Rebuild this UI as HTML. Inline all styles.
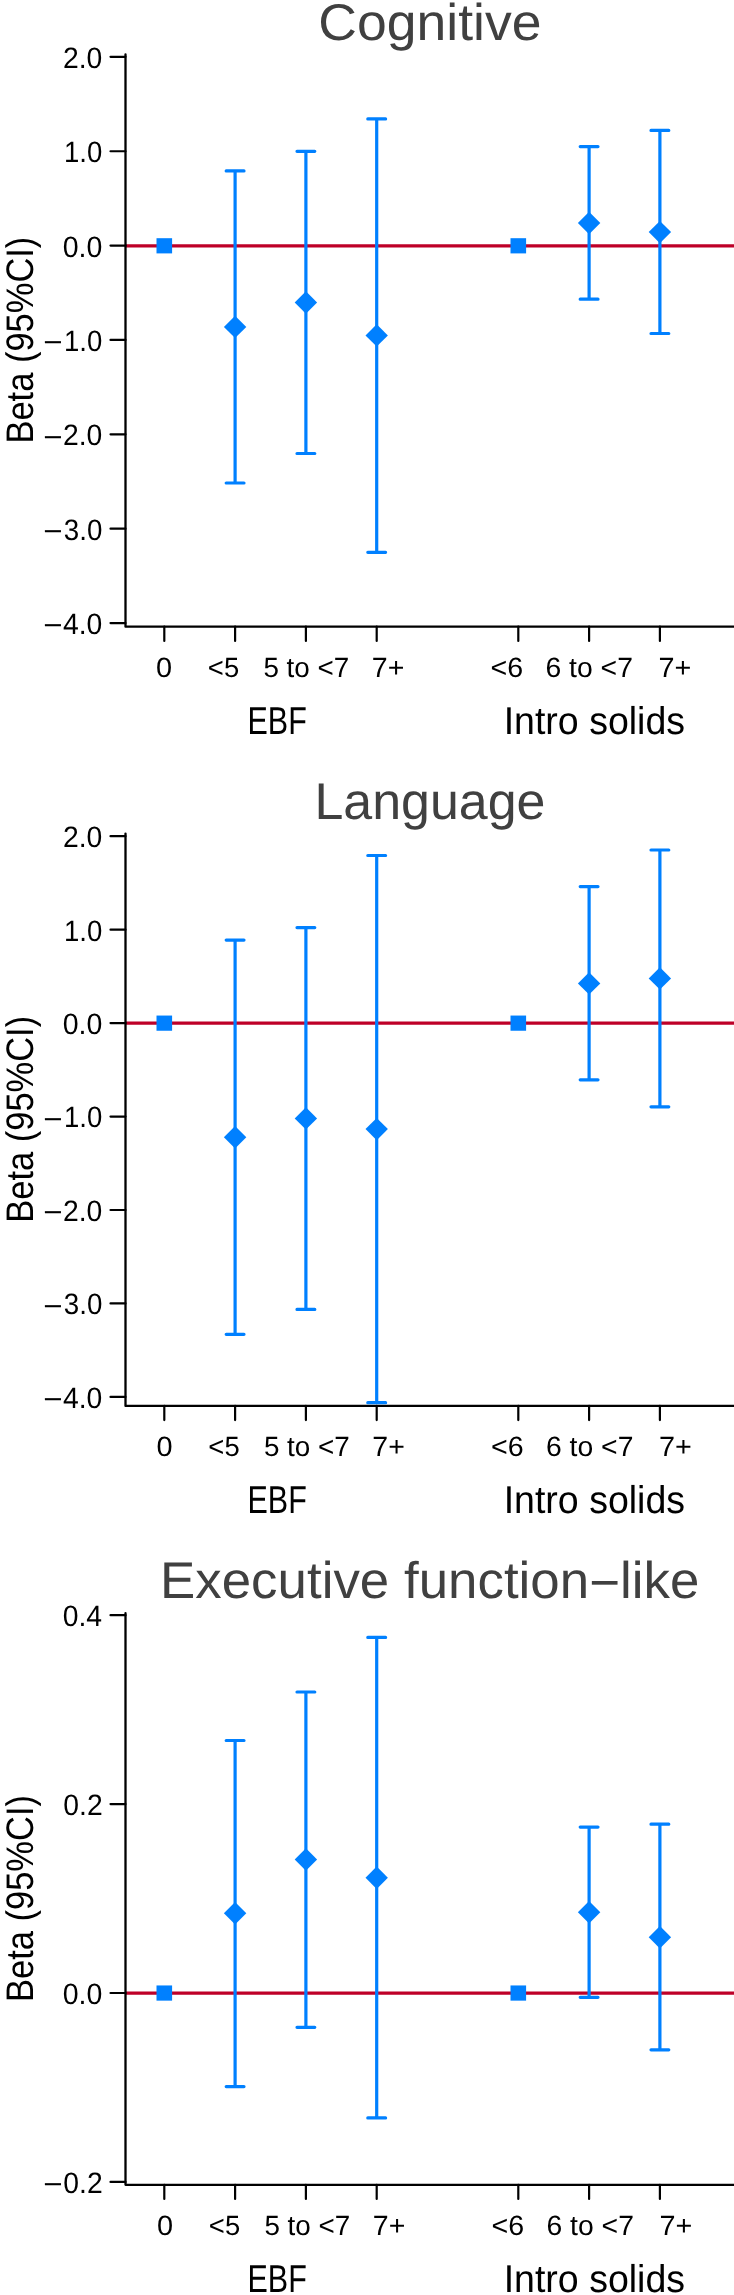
<!DOCTYPE html>
<html><head><meta charset="utf-8"><title>Beta (95%CI) by EBF and Intro solids</title>
<style>
html,body{margin:0;padding:0;background:#fff;}
body{width:734px;height:2295px;overflow:hidden;}
svg{display:block;will-change:transform;}
text{font-family:"Liberation Sans",sans-serif;font-size:100px;font-kerning:none;font-feature-settings:"kern" 0;text-rendering:geometricPrecision;white-space:pre;}
</style></head><body>
<svg width="734" height="2295" viewBox="0 0 734 2295">
<rect width="734" height="2295" fill="#fff"/>
<text transform="matrix(0.53538 0 0 0.51700 318.28 39.50)" fill="#404040">Cognitive</text>
<line x1="125.5" y1="245.80" x2="734" y2="245.80" stroke="#BE0028" stroke-width="3.2"/>
<path d="M125.5 54.40 V626.70 H740" fill="none" stroke="#000" stroke-width="2.3" stroke-linecap="round" stroke-linejoin="round"/>
<line x1="110.5" y1="56.86" x2="125.5" y2="56.86" stroke="#000" stroke-width="2.2" stroke-linecap="round"/>
<text transform="matrix(0.28329 0 0 0.29500 62.98 67.76)" fill="#000">2.0</text>
<line x1="110.5" y1="151.23" x2="125.5" y2="151.23" stroke="#000" stroke-width="2.2" stroke-linecap="round"/>
<text transform="matrix(0.27571 0 0 0.29500 64.00 162.13)" fill="#000">1.0</text>
<line x1="110.5" y1="245.60" x2="125.5" y2="245.60" stroke="#000" stroke-width="2.2" stroke-linecap="round"/>
<text transform="matrix(0.28544 0 0 0.29500 62.69 256.50)" fill="#000">0.0</text>
<line x1="110.5" y1="339.97" x2="125.5" y2="339.97" stroke="#000" stroke-width="2.2" stroke-linecap="round"/>
<text transform="matrix(0.33138 0 0 0.29500 43.17 352.38)" fill="#000">−</text>
<text transform="matrix(0.27571 0 0 0.29500 64.00 350.87)" fill="#000">1.0</text>
<line x1="110.5" y1="434.34" x2="125.5" y2="434.34" stroke="#000" stroke-width="2.2" stroke-linecap="round"/>
<text transform="matrix(0.33138 0 0 0.29500 43.17 446.75)" fill="#000">−</text>
<text transform="matrix(0.28329 0 0 0.29500 62.98 445.24)" fill="#000">2.0</text>
<line x1="110.5" y1="528.71" x2="125.5" y2="528.71" stroke="#000" stroke-width="2.2" stroke-linecap="round"/>
<text transform="matrix(0.33138 0 0 0.29500 43.17 541.12)" fill="#000">−</text>
<text transform="matrix(0.27761 0 0 0.29500 63.74 539.61)" fill="#000">3.0</text>
<line x1="110.5" y1="623.08" x2="125.5" y2="623.08" stroke="#000" stroke-width="2.2" stroke-linecap="round"/>
<text transform="matrix(0.33138 0 0 0.29500 43.17 635.49)" fill="#000">−</text>
<text transform="matrix(0.28348 0 0 0.29500 62.95 633.98)" fill="#000">4.0</text>
<line x1="164.30" y1="626.70" x2="164.30" y2="640.90" stroke="#000" stroke-width="2.2" stroke-linecap="round"/>
<line x1="235.10" y1="626.70" x2="235.10" y2="640.90" stroke="#000" stroke-width="2.2" stroke-linecap="round"/>
<line x1="305.90" y1="626.70" x2="305.90" y2="640.90" stroke="#000" stroke-width="2.2" stroke-linecap="round"/>
<line x1="376.70" y1="626.70" x2="376.70" y2="640.90" stroke="#000" stroke-width="2.2" stroke-linecap="round"/>
<line x1="518.30" y1="626.70" x2="518.30" y2="640.90" stroke="#000" stroke-width="2.2" stroke-linecap="round"/>
<line x1="589.10" y1="626.70" x2="589.10" y2="640.90" stroke="#000" stroke-width="2.2" stroke-linecap="round"/>
<line x1="659.90" y1="626.70" x2="659.90" y2="640.90" stroke="#000" stroke-width="2.2" stroke-linecap="round"/>
<text transform="matrix(0.28869 0 0 0.27800 156.07 676.60)" fill="#000">0</text>
<text transform="matrix(0.27459 0 0 0.27800 207.85 676.60)" fill="#000">&lt;5</text>
<text transform="matrix(0.27841 0 0 0.27800 263.39 676.60)" fill="#000">5 to &lt;7</text>
<text transform="matrix(0.28474 0 0 0.27800 371.84 676.60)" fill="#000">7+</text>
<text transform="matrix(0.28657 0 0 0.27800 490.59 676.60)" fill="#000">&lt;6</text>
<text transform="matrix(0.28343 0 0 0.27800 545.46 676.60)" fill="#000">6 to &lt;7</text>
<text transform="matrix(0.28762 0 0 0.27800 658.53 676.60)" fill="#000">7+</text>
<text transform="matrix(0.30503 0 0 0.38900 247.50 733.90)" fill="#000">EBF</text>
<text transform="matrix(0.37518 0 0 0.38800 503.64 733.90)" fill="#000">Intro solids</text>
<text transform="matrix(0 -0.34463 0.38400 0 33.10 443.53)" fill="#000">Beta (95%CI)</text>
<rect x="156.50" y="238.20" width="15.6" height="15.2" fill="#0080FF"/>
<rect x="510.50" y="238.20" width="15.6" height="15.2" fill="#0080FF"/>
<path d="M235.10 170.90V483.00M226.20 170.90H244.00M226.20 483.00H244.00" fill="none" stroke="#0080FF" stroke-width="3.2" stroke-linecap="round"/>
<path d="M235.10 315.70L246.30 326.90L235.10 338.10L223.90 326.90Z" fill="#0080FF"/>
<path d="M305.90 151.30V453.50M297.00 151.30H314.80M297.00 453.50H314.80" fill="none" stroke="#0080FF" stroke-width="3.2" stroke-linecap="round"/>
<path d="M305.90 291.25L317.10 302.45L305.90 313.65L294.70 302.45Z" fill="#0080FF"/>
<path d="M376.70 118.90V552.30M367.80 118.90H385.60M367.80 552.30H385.60" fill="none" stroke="#0080FF" stroke-width="3.2" stroke-linecap="round"/>
<path d="M376.70 324.20L387.90 335.40L376.70 346.60L365.50 335.40Z" fill="#0080FF"/>
<path d="M589.10 146.60V299.20M580.20 146.60H598.00M580.20 299.20H598.00" fill="none" stroke="#0080FF" stroke-width="3.2" stroke-linecap="round"/>
<path d="M589.10 211.80L600.30 223.00L589.10 234.20L577.90 223.00Z" fill="#0080FF"/>
<path d="M659.90 130.40V333.50M651.00 130.40H668.80M651.00 333.50H668.80" fill="none" stroke="#0080FF" stroke-width="3.2" stroke-linecap="round"/>
<path d="M659.90 220.90L671.10 232.10L659.90 243.30L648.70 232.10Z" fill="#0080FF"/>
<text transform="matrix(0.51911 0 0 0.51700 314.44 818.80)" fill="#404040">Language</text>
<line x1="125.5" y1="1023.15" x2="734" y2="1023.15" stroke="#BE0028" stroke-width="3.2"/>
<path d="M125.5 833.60 V1405.90 H740" fill="none" stroke="#000" stroke-width="2.3" stroke-linecap="round" stroke-linejoin="round"/>
<line x1="110.5" y1="836.20" x2="125.5" y2="836.20" stroke="#000" stroke-width="2.2" stroke-linecap="round"/>
<text transform="matrix(0.28329 0 0 0.29500 62.98 847.10)" fill="#000">2.0</text>
<line x1="110.5" y1="929.65" x2="125.5" y2="929.65" stroke="#000" stroke-width="2.2" stroke-linecap="round"/>
<text transform="matrix(0.27571 0 0 0.29500 64.00 940.55)" fill="#000">1.0</text>
<line x1="110.5" y1="1023.10" x2="125.5" y2="1023.10" stroke="#000" stroke-width="2.2" stroke-linecap="round"/>
<text transform="matrix(0.28544 0 0 0.29500 62.69 1034.00)" fill="#000">0.0</text>
<line x1="110.5" y1="1116.55" x2="125.5" y2="1116.55" stroke="#000" stroke-width="2.2" stroke-linecap="round"/>
<text transform="matrix(0.33138 0 0 0.29500 43.17 1128.96)" fill="#000">−</text>
<text transform="matrix(0.27571 0 0 0.29500 64.00 1127.45)" fill="#000">1.0</text>
<line x1="110.5" y1="1210.00" x2="125.5" y2="1210.00" stroke="#000" stroke-width="2.2" stroke-linecap="round"/>
<text transform="matrix(0.33138 0 0 0.29500 43.17 1222.41)" fill="#000">−</text>
<text transform="matrix(0.28329 0 0 0.29500 62.98 1220.90)" fill="#000">2.0</text>
<line x1="110.5" y1="1303.45" x2="125.5" y2="1303.45" stroke="#000" stroke-width="2.2" stroke-linecap="round"/>
<text transform="matrix(0.33138 0 0 0.29500 43.17 1315.86)" fill="#000">−</text>
<text transform="matrix(0.27761 0 0 0.29500 63.74 1314.35)" fill="#000">3.0</text>
<line x1="110.5" y1="1396.90" x2="125.5" y2="1396.90" stroke="#000" stroke-width="2.2" stroke-linecap="round"/>
<text transform="matrix(0.33138 0 0 0.29500 43.17 1409.31)" fill="#000">−</text>
<text transform="matrix(0.28348 0 0 0.29500 62.95 1407.80)" fill="#000">4.0</text>
<line x1="164.30" y1="1405.90" x2="164.30" y2="1420.10" stroke="#000" stroke-width="2.2" stroke-linecap="round"/>
<line x1="235.10" y1="1405.90" x2="235.10" y2="1420.10" stroke="#000" stroke-width="2.2" stroke-linecap="round"/>
<line x1="305.90" y1="1405.90" x2="305.90" y2="1420.10" stroke="#000" stroke-width="2.2" stroke-linecap="round"/>
<line x1="376.70" y1="1405.90" x2="376.70" y2="1420.10" stroke="#000" stroke-width="2.2" stroke-linecap="round"/>
<line x1="518.30" y1="1405.90" x2="518.30" y2="1420.10" stroke="#000" stroke-width="2.2" stroke-linecap="round"/>
<line x1="589.10" y1="1405.90" x2="589.10" y2="1420.10" stroke="#000" stroke-width="2.2" stroke-linecap="round"/>
<line x1="659.90" y1="1405.90" x2="659.90" y2="1420.10" stroke="#000" stroke-width="2.2" stroke-linecap="round"/>
<text transform="matrix(0.28869 0 0 0.27800 156.57 1455.80)" fill="#000">0</text>
<text transform="matrix(0.27459 0 0 0.27800 208.35 1455.80)" fill="#000">&lt;5</text>
<text transform="matrix(0.27841 0 0 0.27800 263.89 1455.80)" fill="#000">5 to &lt;7</text>
<text transform="matrix(0.28474 0 0 0.27800 372.34 1455.80)" fill="#000">7+</text>
<text transform="matrix(0.28657 0 0 0.27800 491.09 1455.80)" fill="#000">&lt;6</text>
<text transform="matrix(0.28343 0 0 0.27800 545.96 1455.80)" fill="#000">6 to &lt;7</text>
<text transform="matrix(0.28762 0 0 0.27800 659.03 1455.80)" fill="#000">7+</text>
<text transform="matrix(0.30503 0 0 0.38900 247.50 1513.10)" fill="#000">EBF</text>
<text transform="matrix(0.37518 0 0 0.38800 503.64 1513.10)" fill="#000">Intro solids</text>
<text transform="matrix(0 -0.34463 0.38400 0 33.10 1222.73)" fill="#000">Beta (95%CI)</text>
<rect x="156.50" y="1015.55" width="15.6" height="15.2" fill="#0080FF"/>
<rect x="510.50" y="1015.55" width="15.6" height="15.2" fill="#0080FF"/>
<path d="M235.10 940.10V1334.30M226.20 940.10H244.00M226.20 1334.30H244.00" fill="none" stroke="#0080FF" stroke-width="3.2" stroke-linecap="round"/>
<path d="M235.10 1126.10L246.30 1137.30L235.10 1148.50L223.90 1137.30Z" fill="#0080FF"/>
<path d="M305.90 927.60V1309.40M297.00 927.60H314.80M297.00 1309.40H314.80" fill="none" stroke="#0080FF" stroke-width="3.2" stroke-linecap="round"/>
<path d="M305.90 1107.20L317.10 1118.40L305.90 1129.60L294.70 1118.40Z" fill="#0080FF"/>
<path d="M376.70 855.50V1402.70M367.80 855.50H385.60M367.80 1402.70H385.60" fill="none" stroke="#0080FF" stroke-width="3.2" stroke-linecap="round"/>
<path d="M376.70 1117.90L387.90 1129.10L376.70 1140.30L365.50 1129.10Z" fill="#0080FF"/>
<path d="M589.10 886.60V1079.80M580.20 886.60H598.00M580.20 1079.80H598.00" fill="none" stroke="#0080FF" stroke-width="3.2" stroke-linecap="round"/>
<path d="M589.10 972.20L600.30 983.40L589.10 994.60L577.90 983.40Z" fill="#0080FF"/>
<path d="M659.90 850.00V1106.80M651.00 850.00H668.80M651.00 1106.80H668.80" fill="none" stroke="#0080FF" stroke-width="3.2" stroke-linecap="round"/>
<path d="M659.90 967.20L671.10 978.40L659.90 989.60L648.70 978.40Z" fill="#0080FF"/>
<text transform="matrix(0.52880 0 0 0.51700 159.96 1597.90)" dy="0.00 0.00 0.00 0.00 0.00 0.00 0.00 0.00 0.00 0.00 0.00 0.00 0.00 0.00 0.00 0.00 0.00 0.00 3.87 -3.87 0.00 0.00 0.00" fill="#404040">Executive function−like</text>
<line x1="125.5" y1="1993.05" x2="734" y2="1993.05" stroke="#BE0028" stroke-width="3.2"/>
<path d="M125.5 1613.20 V2184.80 H740" fill="none" stroke="#000" stroke-width="2.3" stroke-linecap="round" stroke-linejoin="round"/>
<line x1="110.5" y1="1615.20" x2="125.5" y2="1615.20" stroke="#000" stroke-width="2.2" stroke-linecap="round"/>
<text transform="matrix(0.28333 0 0 0.29500 62.69 1626.10)" fill="#000">0.4</text>
<line x1="110.5" y1="1804.10" x2="125.5" y2="1804.10" stroke="#000" stroke-width="2.2" stroke-linecap="round"/>
<text transform="matrix(0.28329 0 0 0.29500 63.29 1815.00)" fill="#000">0.2</text>
<line x1="110.5" y1="1993.00" x2="125.5" y2="1993.00" stroke="#000" stroke-width="2.2" stroke-linecap="round"/>
<text transform="matrix(0.28544 0 0 0.29500 62.69 2003.90)" fill="#000">0.0</text>
<line x1="110.5" y1="2181.90" x2="125.5" y2="2181.90" stroke="#000" stroke-width="2.2" stroke-linecap="round"/>
<text transform="matrix(0.33138 0 0 0.29500 43.17 2194.31)" fill="#000">−</text>
<text transform="matrix(0.28329 0 0 0.29500 63.29 2192.80)" fill="#000">0.2</text>
<line x1="164.30" y1="2184.80" x2="164.30" y2="2199.00" stroke="#000" stroke-width="2.2" stroke-linecap="round"/>
<line x1="235.10" y1="2184.80" x2="235.10" y2="2199.00" stroke="#000" stroke-width="2.2" stroke-linecap="round"/>
<line x1="305.90" y1="2184.80" x2="305.90" y2="2199.00" stroke="#000" stroke-width="2.2" stroke-linecap="round"/>
<line x1="376.70" y1="2184.80" x2="376.70" y2="2199.00" stroke="#000" stroke-width="2.2" stroke-linecap="round"/>
<line x1="518.30" y1="2184.80" x2="518.30" y2="2199.00" stroke="#000" stroke-width="2.2" stroke-linecap="round"/>
<line x1="589.10" y1="2184.80" x2="589.10" y2="2199.00" stroke="#000" stroke-width="2.2" stroke-linecap="round"/>
<line x1="659.90" y1="2184.80" x2="659.90" y2="2199.00" stroke="#000" stroke-width="2.2" stroke-linecap="round"/>
<text transform="matrix(0.28869 0 0 0.27800 157.07 2235.00)" fill="#000">0</text>
<text transform="matrix(0.27459 0 0 0.27800 208.85 2235.00)" fill="#000">&lt;5</text>
<text transform="matrix(0.27841 0 0 0.27800 264.39 2235.00)" fill="#000">5 to &lt;7</text>
<text transform="matrix(0.28474 0 0 0.27800 372.84 2235.00)" fill="#000">7+</text>
<text transform="matrix(0.28657 0 0 0.27800 491.59 2235.00)" fill="#000">&lt;6</text>
<text transform="matrix(0.28343 0 0 0.27800 546.46 2235.00)" fill="#000">6 to &lt;7</text>
<text transform="matrix(0.28762 0 0 0.27800 659.53 2235.00)" fill="#000">7+</text>
<text transform="matrix(0.30503 0 0 0.38900 247.50 2292.30)" fill="#000">EBF</text>
<text transform="matrix(0.37518 0 0 0.38800 503.64 2292.30)" fill="#000">Intro solids</text>
<text transform="matrix(0 -0.34463 0.38400 0 33.10 2001.93)" fill="#000">Beta (95%CI)</text>
<rect x="156.50" y="1985.45" width="15.6" height="15.2" fill="#0080FF"/>
<rect x="510.50" y="1985.45" width="15.6" height="15.2" fill="#0080FF"/>
<path d="M235.10 1740.50V2086.60M226.20 1740.50H244.00M226.20 2086.60H244.00" fill="none" stroke="#0080FF" stroke-width="3.2" stroke-linecap="round"/>
<path d="M235.10 1902.00L246.30 1913.20L235.10 1924.40L223.90 1913.20Z" fill="#0080FF"/>
<path d="M305.90 1692.00V2027.30M297.00 1692.00H314.80M297.00 2027.30H314.80" fill="none" stroke="#0080FF" stroke-width="3.2" stroke-linecap="round"/>
<path d="M305.90 1848.30L317.10 1859.50L305.90 1870.70L294.70 1859.50Z" fill="#0080FF"/>
<path d="M376.70 1637.40V2117.90M367.80 1637.40H385.60M367.80 2117.90H385.60" fill="none" stroke="#0080FF" stroke-width="3.2" stroke-linecap="round"/>
<path d="M376.70 1866.50L387.90 1877.70L376.70 1888.90L365.50 1877.70Z" fill="#0080FF"/>
<path d="M589.10 1827.10V1997.30M580.20 1827.10H598.00M580.20 1997.30H598.00" fill="none" stroke="#0080FF" stroke-width="3.2" stroke-linecap="round"/>
<path d="M589.10 1901.10L600.30 1912.30L589.10 1923.50L577.90 1912.30Z" fill="#0080FF"/>
<path d="M659.90 1824.20V2049.80M651.00 1824.20H668.80M651.00 2049.80H668.80" fill="none" stroke="#0080FF" stroke-width="3.2" stroke-linecap="round"/>
<path d="M659.90 1926.10L671.10 1937.30L659.90 1948.50L648.70 1937.30Z" fill="#0080FF"/>
</svg>
</body></html>
